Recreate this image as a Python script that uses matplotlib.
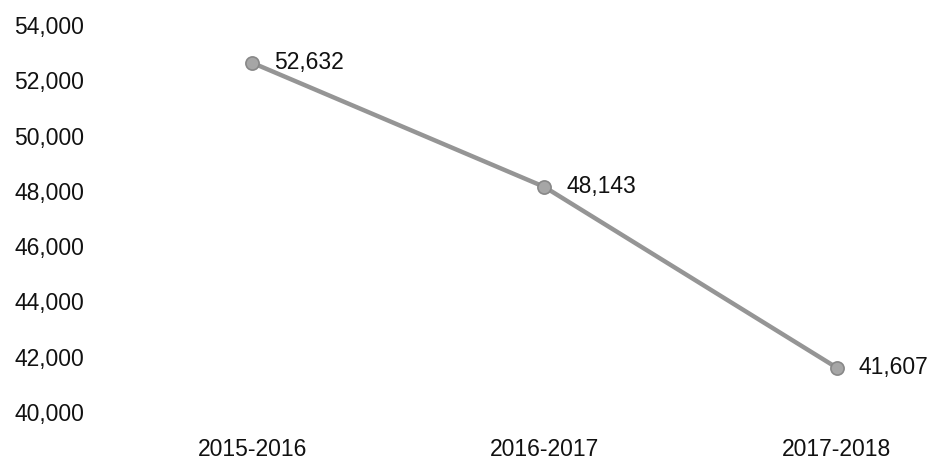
import matplotlib.pyplot as plt

plt.rcParams['font.family'] = ['Liberation Sans', 'DejaVu Sans']

years = ['2015-2016', '2016-2017', '2017-2018']
counts = [52632, 48143, 41607]
y_ticks = [40000, 42000, 44000, 46000, 48000, 50000, 52000, 54000]

W, H = 933, 466
fig = plt.figure(figsize=(W / 100, H / 100), dpi=100)
# axes placed in pixel terms: 54,000 near 25px from top, 40,000 near 412px
ax = fig.add_axes([95 / W, (H - 412) / H, (W - 95) / W, (412 - 25) / H])

x = list(range(len(years)))
ax.plot(x, counts, color='#959595', lw=3.2, marker='o', ms=9.5,
        markerfacecolor='#a6a6a6', markeredgecolor='#888888', markeredgewidth=1.2,
        solid_capstyle='round', zorder=3)

for xi, v in zip(x, counts):
    ax.annotate(f'{v:,}', (xi, v), xytext=(16, 0), textcoords='offset points',
                ha='left', va='center', fontsize=16.5, color='#111111')

ax.set_xlim(-0.538, 2.33)
ax.set_ylim(40000, 54000)
ax.set_yticks(y_ticks)
ax.set_yticklabels([f'{t:,}' for t in y_ticks])
ax.set_xticks(x)
ax.set_xticklabels(years)
ax.tick_params(axis='both', length=0, labelsize=16.5, labelcolor='#111111')
ax.tick_params(axis='y', pad=8)
ax.tick_params(axis='x', pad=19)
for s in ax.spines.values():
    s.set_visible(False)

fig.savefig('out.png', dpi=100, facecolor='white')
